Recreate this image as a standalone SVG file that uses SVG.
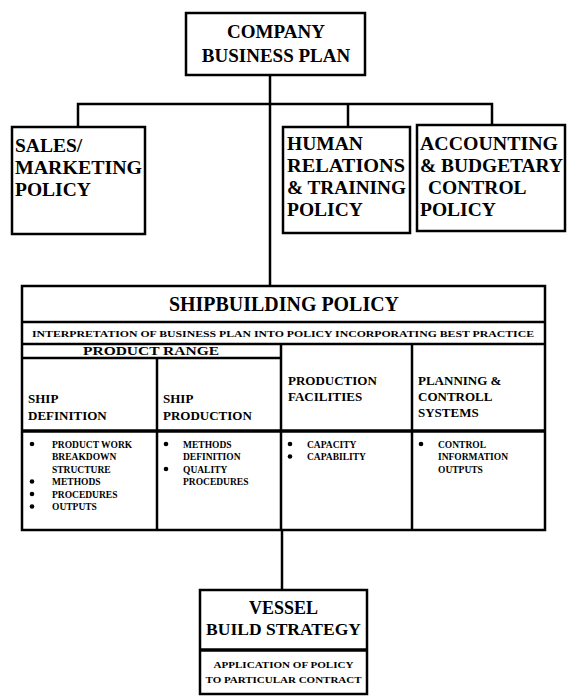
<svg xmlns="http://www.w3.org/2000/svg" width="567" height="698" viewBox="0 0 567 698">
<style>
.box{fill:#fff;stroke:#000;stroke-width:2.5}
.ln{stroke:#000;stroke-width:2.5;fill:none}
.thk{stroke:#000;stroke-width:3.5;fill:none}
.t{font-family:"Liberation Serif","Times New Roman",serif;font-weight:bold;fill:#000}
.big{font-size:19px}
.pol{font-size:19.5px}
.ttl{font-size:20px}
.hd{font-size:13px}
.sm{font-size:9.5px}
.xs{font-size:8.5px}
.m{text-anchor:middle}
.dot{fill:#000}
</style>
<rect width="567" height="698" fill="#fff"/>
<g id="connectors">
 <path class="ln" d="M270 75 V286"/>
 <path class="ln" d="M78 127 V104 H492 V125"/>
 <path class="ln" d="M348 104 V127"/>
 <path class="ln" d="M282 530 V590"/>
</g>
<g id="company">
 <rect class="box" x="186" y="13" width="179" height="62"/>
 <text class="t big m" x="276" y="38">COMPANY</text>
 <text class="t big m" x="276" y="62">BUSINESS PLAN</text>
</g>
<g id="sales">
 <rect class="box" x="12" y="127" width="133" height="107"/>
 <text class="t pol" x="15" y="152">SALES/</text>
 <text class="t pol" x="15" y="174" textLength="127" lengthAdjust="spacingAndGlyphs">MARKETING</text>
 <text class="t pol" x="15" y="196">POLICY</text>
</g>
<g id="human">
 <rect class="box" x="283" y="127" width="127" height="106"/>
 <text class="t pol" x="287" y="150">HUMAN</text>
 <text class="t pol" x="287" y="172" textLength="118" lengthAdjust="spacingAndGlyphs">RELATIONS</text>
 <text class="t pol" x="287" y="194" textLength="119" lengthAdjust="spacingAndGlyphs">&amp; TRAINING</text>
 <text class="t pol" x="287" y="216">POLICY</text>
</g>
<g id="accounting">
 <rect class="box" x="417" y="125" width="148" height="106"/>
 <text class="t pol" x="420" y="150" textLength="138" lengthAdjust="spacingAndGlyphs">ACCOUNTING</text>
 <text class="t pol" x="420" y="172" textLength="143" lengthAdjust="spacingAndGlyphs">&amp; BUDGETARY</text>
 <text class="t pol" x="428" y="194">CONTROL</text>
 <text class="t pol" x="420" y="216">POLICY</text>
</g>
<g id="shipbuilding">
 <rect class="box" x="22" y="286" width="523" height="244"/>
 <path class="ln" d="M22 322 H545 M22 344 H545 M22 358 H281 M157 358 V530 M281 344 V530 M412 344 V530"/>
 <path class="thk" d="M22 431 H545"/>
 <text class="t ttl m" x="284" y="311" textLength="230" lengthAdjust="spacingAndGlyphs">SHIPBUILDING POLICY</text>
 <text class="t xs m" x="283" y="337" textLength="502" lengthAdjust="spacingAndGlyphs">INTERPRETATION OF BUSINESS PLAN INTO POLICY INCORPORATING BEST PRACTICE</text>
 <text class="t hd m" x="151" y="355" textLength="136" lengthAdjust="spacingAndGlyphs">PRODUCT RANGE</text>
 <text class="t hd" x="28" y="403">SHIP</text>
 <text class="t hd" x="28" y="420">DEFINITION</text>
 <text class="t hd" x="163" y="403">SHIP</text>
 <text class="t hd" x="163" y="420">PRODUCTION</text>
 <text class="t hd" x="288" y="385">PRODUCTION</text>
 <text class="t hd" x="288" y="401">FACILITIES</text>
 <text class="t hd" x="418" y="385">PLANNING &amp;</text>
 <text class="t hd" x="418" y="401">CONTROLL</text>
 <text class="t hd" x="418" y="417">SYSTEMS</text>
 <circle class="dot" cx="32" cy="444" r="2.3"/>
 <circle class="dot" cx="32" cy="481.5" r="2.3"/>
 <circle class="dot" cx="32" cy="494" r="2.3"/>
 <circle class="dot" cx="32" cy="506.5" r="2.3"/>
 <text class="t sm" x="52" y="447.5">PRODUCT WORK</text>
 <text class="t sm" x="52" y="460">BREAKDOWN</text>
 <text class="t sm" x="52" y="472.5">STRUCTURE</text>
 <text class="t sm" x="52" y="485">METHODS</text>
 <text class="t sm" x="52" y="497.5">PROCEDURES</text>
 <text class="t sm" x="52" y="510">OUTPUTS</text>
 <circle class="dot" cx="166" cy="444" r="2.3"/>
 <circle class="dot" cx="166" cy="469" r="2.3"/>
 <text class="t sm" x="183" y="447.5">METHODS</text>
 <text class="t sm" x="183" y="460">DEFINITION</text>
 <text class="t sm" x="183" y="472.5">QUALITY</text>
 <text class="t sm" x="183" y="485">PROCEDURES</text>
 <circle class="dot" cx="290" cy="444" r="2.3"/>
 <circle class="dot" cx="290" cy="456.5" r="2.3"/>
 <text class="t sm" x="307" y="447.5">CAPACITY</text>
 <text class="t sm" x="307" y="460">CAPABILITY</text>
 <circle class="dot" cx="421" cy="444" r="2.3"/>
 <text class="t sm" x="438" y="447.5">CONTROL</text>
 <text class="t sm" x="438" y="460">INFORMATION</text>
 <text class="t sm" x="438" y="472.5">OUTPUTS</text>
</g>
<g id="vessel">
 <rect class="box" x="200" y="590" width="167" height="104"/>
 <path class="thk" d="M200 650 H367"/>
 <text class="t m" font-size="18" x="283.5" y="614">VESSEL</text>
 <text class="t m" font-size="17.5" x="283.5" y="635">BUILD STRATEGY</text>
 <text class="t xs m" x="283.5" y="668" textLength="140" lengthAdjust="spacingAndGlyphs">APPLICATION OF POLICY</text>
 <text class="t xs m" x="283.5" y="683" textLength="156" lengthAdjust="spacingAndGlyphs">TO PARTICULAR CONTRACT</text>
</g>
</svg>
